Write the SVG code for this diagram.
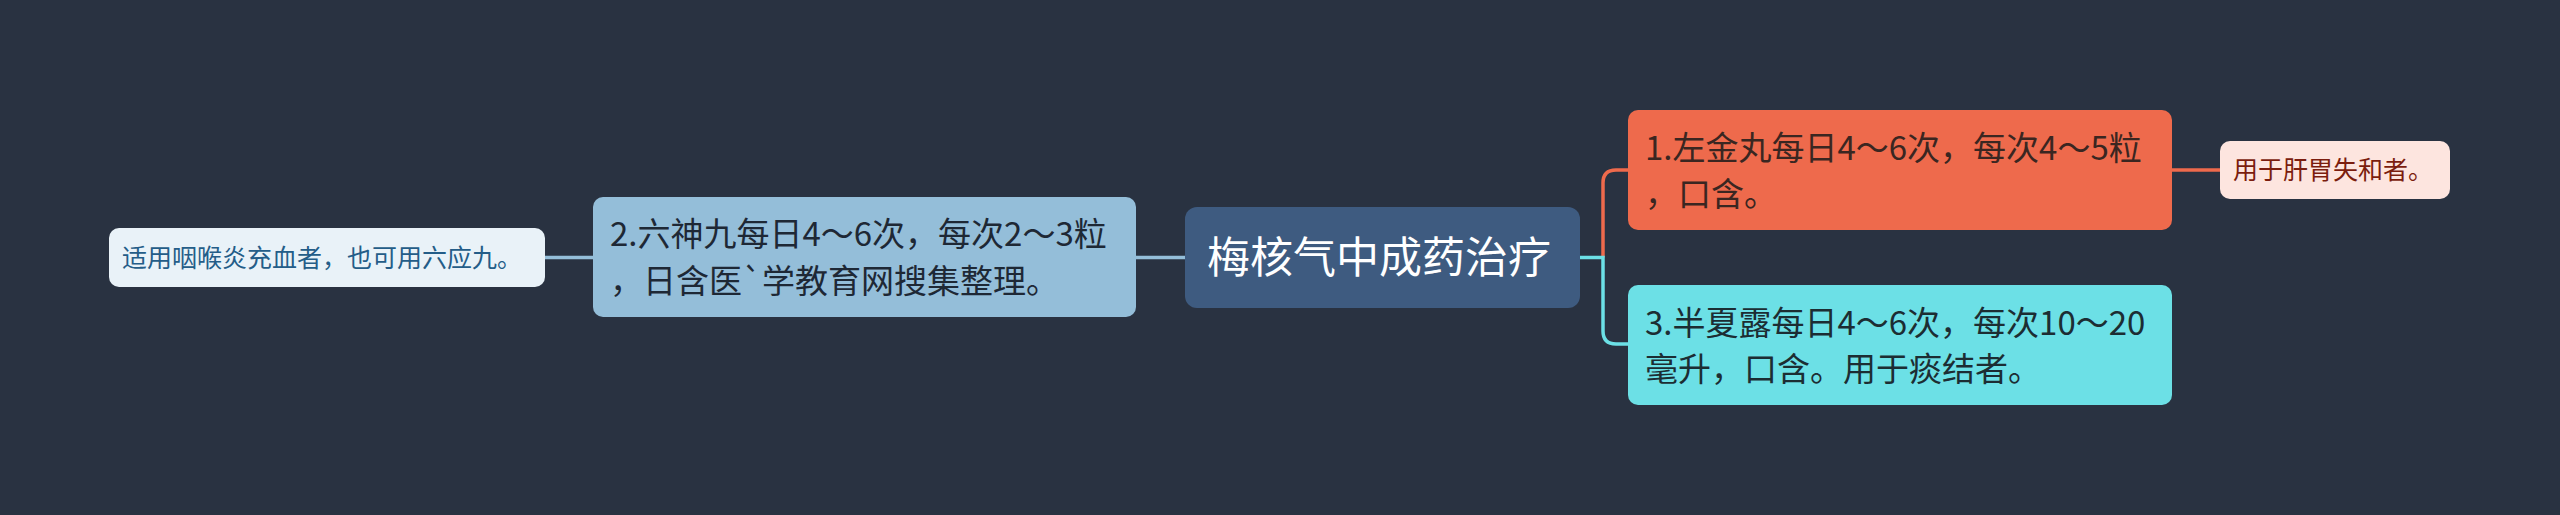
<svg xmlns="http://www.w3.org/2000/svg" width="2560" height="515" viewBox="0 0 2560 515">
<style>
text{font-family:"Noto Sans CJK SC","Noto Sans",sans-serif;}
.c{fill:none;stroke-width:3.5;}
</style>
<rect x="0" y="0" width="2560" height="515" fill="#293241"/>
<g id="connectors">
<path class="c" stroke="#94bed9" d="M545,257.5 H593"/>
<path class="c" stroke="#94bed9" d="M1136,257.5 H1185"/>
<path class="c" stroke="#ee6a4c" d="M1603,257.5 V183 Q1603,170 1616,170 H1628"/>
<path class="c" stroke="#6ce0e6" d="M1580,257.5 H1603 V331 Q1603,344 1616,344 H1628"/>
<path class="c" stroke="#ee6a4c" d="M2172,170 H2220"/>
</g>
<g id="center">
<rect x="1185" y="207" width="395" height="101" rx="12" fill="#3e5b80"/>
<text x="1207" y="273" font-size="43" fill="#ffffff">梅核气中成药治疗</text>
</g>
<g id="node2">
<rect x="593" y="197" width="543" height="120" rx="10" fill="#94bed9"/>
<text x="610" y="246" font-size="33" fill="#1e2835">2.六神九每日4～6次，每次2～3粒</text>
<text x="610" y="293" font-size="33" fill="#1e2835">，日含医`学教育网搜集整理。</text>
</g>
<g id="leaf">
<rect x="109" y="228" width="436" height="59" rx="10" fill="#e9f2f8"/>
<text x="122" y="267" font-size="25" fill="#245d88">适用咽喉炎充血者，也可用六应九。</text>
</g>
<g id="node1">
<rect x="1628" y="110" width="544" height="120" rx="10" fill="#ee6a4c"/>
<text x="1645" y="160" font-size="33" fill="#3a2621">1.左金丸每日4～6次，每次4～5粒</text>
<text x="1645" y="206" font-size="33" fill="#3a2621">，口含。</text>
</g>
<g id="node3">
<rect x="1628" y="285" width="544" height="120" rx="10" fill="#6ce0e6"/>
<text x="1645" y="335" font-size="33" fill="#1c2d33">3.半夏露每日4～6次，每次10～20</text>
<text x="1645" y="381" font-size="33" fill="#1c2d33">毫升，口含。用于痰结者。</text>
</g>
<g id="far">
<rect x="2220" y="141" width="230" height="58" rx="10" fill="#fde5df"/>
<text x="2233" y="179" font-size="25" fill="#7b1d0e">用于肝胃失和者。</text>
</g>
</svg>
